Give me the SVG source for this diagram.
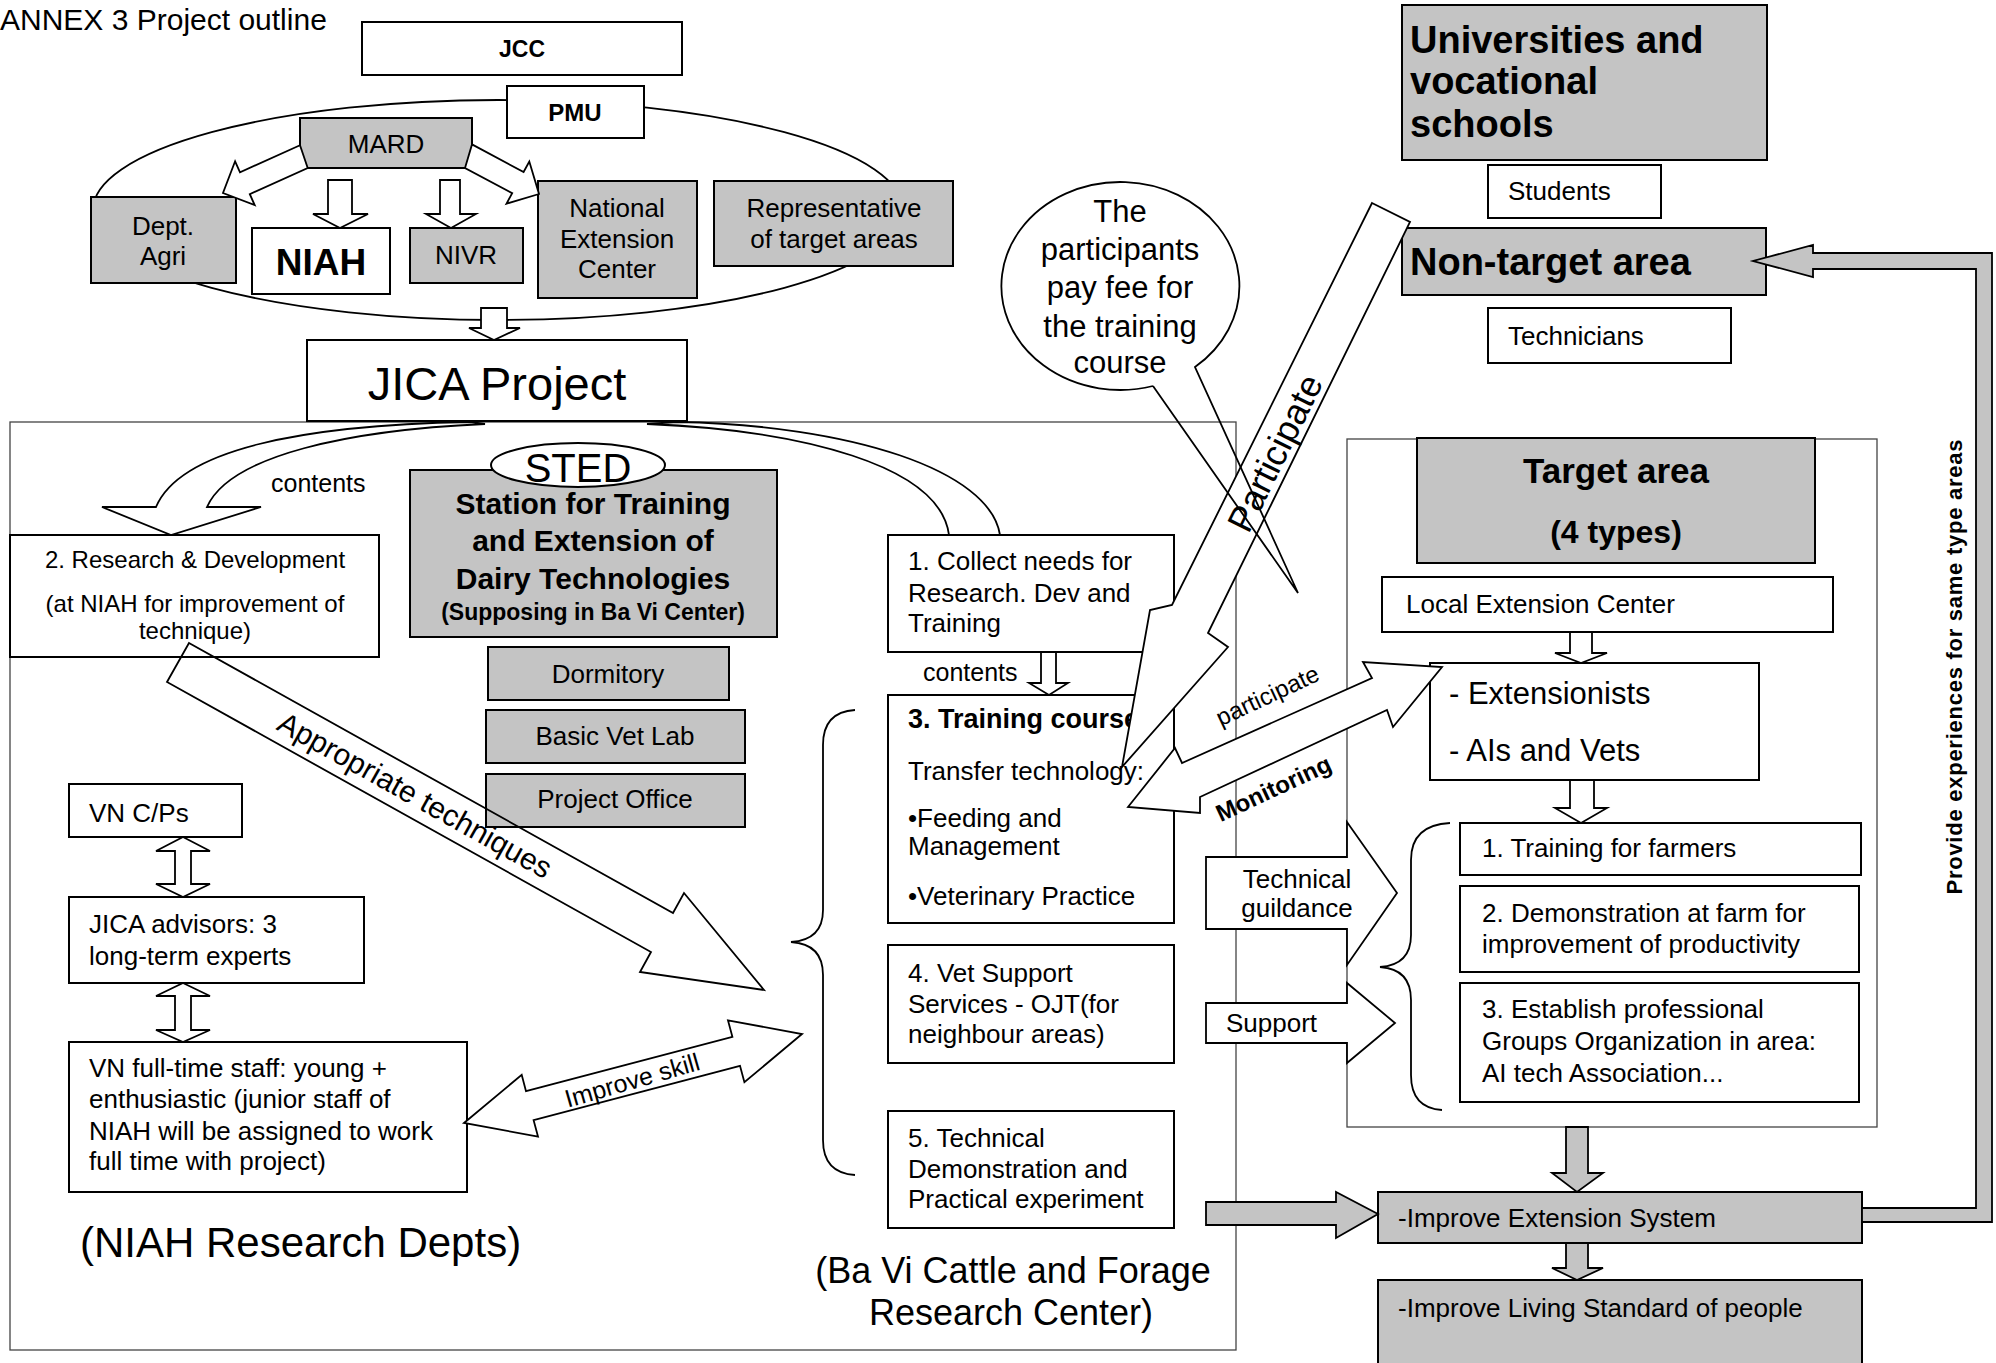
<svg xmlns="http://www.w3.org/2000/svg" width="1996" height="1363" viewBox="0 0 1996 1363">
<style>
text{font-family:"Liberation Sans",Arial,sans-serif;fill:#000}
.b{font-weight:bold}
.box{fill:#fff;stroke:#000;stroke-width:2}
.gbox{fill:#c4c4c4;stroke:#000;stroke-width:2}
.panel{fill:none;stroke:#444;stroke-width:1.3}
.arr{fill:#fff;stroke:#000;stroke-width:1.8;stroke-linejoin:miter}
.arrn{fill:none;stroke:#000;stroke-width:1.8}
.garr{fill:#c4c4c4;stroke:#000;stroke-width:1.8}
.ln{fill:none;stroke:#000;stroke-width:1.8}
.f26{font-size:26px}
.mid{text-anchor:middle}
</style>
<rect width="1996" height="1363" fill="#fff"/>

<g id="title"><text x="0" y="30" font-size="30">ANNEX 3 Project outline</text></g>

<g id="panels">
<rect class="panel" x="10" y="422" width="1226" height="928"/>
<rect class="panel" x="1347" y="439" width="530" height="688"/>
</g>

<g id="org-ellipse"><ellipse class="ln" cx="498" cy="210" rx="405" ry="110"/></g>

<g id="jcc"><rect class="box" x="362" y="22" width="320" height="53"/><text class="b mid" x="522" y="57" font-size="23">JCC</text></g>
<g id="pmu"><rect class="box" x="507" y="86" width="137" height="52"/><text class="b mid" x="575" y="121" font-size="24">PMU</text></g>
<g id="mard"><rect class="gbox" x="300" y="118" width="172" height="50"/><text class="mid f26" x="386" y="153">MARD</text></g>
<g id="dept-agri"><rect class="gbox" x="91" y="197" width="145" height="86"/><text class="mid f26" x="163" y="235">Dept.</text><text class="mid f26" x="163" y="265">Agri</text></g>
<g id="niah"><rect class="box" x="252" y="228" width="138" height="66"/><text class="b mid" x="321" y="275" font-size="37">NIAH</text></g>
<g id="nivr"><rect class="gbox" x="410" y="228" width="113" height="55"/><text class="mid f26" x="466" y="264">NIVR</text></g>
<g id="nec"><rect class="gbox" x="538" y="181" width="159" height="117"/><text class="mid f26" x="617" y="217">National</text><text class="mid f26" x="617" y="248">Extension</text><text class="mid f26" x="617" y="278">Center</text></g>
<g id="rep"><rect class="gbox" x="714" y="181" width="239" height="85"/><text class="mid f26" x="834" y="217">Representative</text><text class="mid f26" x="834" y="248">of target areas</text></g>
<g id="jica"><rect class="box" x="307" y="340" width="380" height="81"/><text class="mid" x="497" y="400" font-size="47">JICA Project</text></g>

<g id="research"><rect class="box" x="10" y="535" width="369" height="122"/><text class="mid" x="195" y="568" font-size="24">2. Research &amp; Development</text><text class="mid" x="195" y="612" font-size="24">(at NIAH for improvement of</text><text class="mid" x="195" y="639" font-size="24">technique)</text></g>
<g id="station"><rect class="gbox" x="410" y="470" width="367" height="167"/><text class="b mid" x="593" y="514" font-size="30">Station for Training</text><text class="b mid" x="593" y="551" font-size="30">and Extension of</text><text class="b mid" x="593" y="589" font-size="30">Dairy Technologies</text><text class="b mid" x="593" y="620" font-size="23">(Supposing in Ba Vi Center)</text></g>
<g id="sted"><ellipse cx="578" cy="465" rx="87" ry="22" fill="#fff" stroke="#000" stroke-width="2"/><text class="mid" x="578" y="482" font-size="40">STED</text></g>
<g id="dormitory"><rect class="gbox" x="488" y="647" width="241" height="53"/><text class="mid f26" x="608" y="683">Dormitory</text></g>
<g id="vetlab"><rect class="gbox" x="486" y="710" width="259" height="53"/><text class="mid f26" x="615" y="745">Basic Vet Lab</text></g>
<g id="office"><rect class="gbox" x="486" y="774" width="259" height="53"/><text class="mid f26" x="615" y="808">Project Office</text></g>
<g id="vncp"><rect class="box" x="69" y="784" width="173" height="53"/><text class="f26" x="89" y="822">VN C/Ps</text></g>
<g id="advisors"><rect class="box" x="69" y="897" width="295" height="86"/><text class="f26" x="89" y="933">JICA advisors: 3</text><text class="f26" x="89" y="965">long-term experts</text></g>
<g id="vnstaff"><rect class="box" x="69" y="1042" width="398" height="150"/><text class="f26" x="89" y="1077">VN full-time staff: young +</text><text class="f26" x="89" y="1108">enthusiastic (junior staff of</text><text class="f26" x="89" y="1140">NIAH will be assigned to work</text><text class="f26" x="89" y="1170">full time with project)</text></g>
<g id="niah-label"><text x="80" y="1257" font-size="42">(NIAH Research Depts)</text></g>

<g id="box1"><rect class="box" x="888" y="535" width="286" height="117"/><text class="f26" x="908" y="570">1. Collect needs for</text><text class="f26" x="908" y="602">Research. Dev and</text><text class="f26" x="908" y="632">Training</text></g>
<g id="box3"><rect class="box" x="888" y="695" width="286" height="228"/><text class="b" x="908" y="728" font-size="27">3. Training course</text><text class="f26" x="908" y="780">Transfer technology:</text><text class="f26" x="908" y="827">•Feeding and</text><text class="f26" x="908" y="855">Management</text><text class="f26" x="908" y="905">•Veterinary Practice</text></g>
<g id="box4"><rect class="box" x="888" y="945" width="286" height="118"/><text class="f26" x="908" y="982">4. Vet Support</text><text class="f26" x="908" y="1013">Services - OJT(for</text><text class="f26" x="908" y="1043">neighbour areas)</text></g>
<g id="box5"><rect class="box" x="888" y="1111" width="286" height="117"/><text class="f26" x="908" y="1147">5. Technical</text><text class="f26" x="908" y="1178">Demonstration and</text><text class="f26" x="908" y="1208">Practical experiment</text></g>
<g id="bavi-label"><text class="mid" x="1013" y="1283" font-size="36">(Ba Vi Cattle and Forage</text><text class="mid" x="1011" y="1325" font-size="36">Research Center)</text></g>

<g id="universities"><rect class="gbox" x="1402" y="5" width="365" height="155"/><text class="b" x="1410" y="53" font-size="38">Universities and</text><text class="b" x="1410" y="94" font-size="38">vocational</text><text class="b" x="1410" y="137" font-size="38">schools</text></g>
<g id="students"><rect class="box" x="1488" y="165" width="173" height="53"/><text class="f26" x="1508" y="200">Students</text></g>
<g id="nontarget"><rect class="gbox" x="1402" y="228" width="364" height="67"/><text class="b" x="1410" y="275" font-size="38">Non-target area</text></g>
<g id="technicians"><rect class="box" x="1488" y="308" width="243" height="55"/><text class="f26" x="1508" y="345">Technicians</text></g>

<g id="target-title"><rect class="gbox" x="1417" y="438" width="398" height="125"/><text class="b mid" x="1616" y="483" font-size="35">Target area</text><text class="b mid" x="1616" y="543" font-size="32">(4 types)</text></g>
<g id="local-ext"><rect class="box" x="1382" y="577" width="451" height="55"/><text class="f26" x="1406" y="613">Local Extension Center</text></g>
<g id="extensionists"><rect class="box" x="1430" y="663" width="329" height="117"/><text x="1449" y="704" font-size="31">- Extensionists</text><text x="1449" y="761" font-size="31">- AIs and Vets</text></g>
<g id="t1"><rect class="box" x="1460" y="823" width="401" height="52"/><text class="f26" x="1482" y="857">1. Training for farmers</text></g>
<g id="t2"><rect class="box" x="1460" y="886" width="399" height="86"/><text class="f26" x="1482" y="922">2. Demonstration at farm for</text><text class="f26" x="1482" y="953">improvement of productivity</text></g>
<g id="t3"><rect class="box" x="1460" y="983" width="399" height="119"/><text class="f26" x="1482" y="1018">3. Establish professional</text><text class="f26" x="1482" y="1050">Groups Organization in area:</text><text class="f26" x="1482" y="1082">AI tech Association...</text></g>
<g id="improve-ext"><rect class="gbox" x="1378" y="1192" width="484" height="51"/><text class="f26" x="1398" y="1227">-Improve Extension System</text></g>
<g id="living"><rect class="gbox" x="1378" y="1280" width="484" height="90"/><text class="f26" x="1398" y="1317">-Improve Living Standard of people</text></g>

<g id="connectors">
<polygon class="arr" points="300,145.2 240,172.3 235.1,161.3 223,193 254.7,205.1 249.8,194.1 307.7,168"/>
<polygon class="arr" points="472,144.4 523.6,172 529.3,161.5 539,194 506.5,203.7 512.2,193.2 465,168"/>
<polygon class="arr" points="328,180 352,180 352,214 368,214 340,228 313,214 328,214"/>
<polygon class="arr" points="440,180 460,180 460,214 476,214 451,228 426,214 440,214"/>
<polygon class="arr" points="481,308 507,308 507,328 520,328 494,340 469,328 481,328"/>
<path class="arr" d="M470 422 C300 425 180 450 156 507 L102 507 L171 535 L261 507 L207 507 C230 455 350 430 485 424 Z"/>
<path class="arr" d="M677 422 C850 425 990 470 1000 535 L949 535 C940 465 800 430 647 424 Z"/>
<polygon class="arr" points="1041,652 1056,652 1056,683 1068,683 1049,695 1029,683 1041,683"/>
<polygon class="arr" points="183,837 210,851 191,851 191,884 210,884 183,897 156,884 175,884 175,851 156,851"/>
<polygon class="arr" points="183,983 210,996 191,996 191,1030 210,1030 183,1042 156,1030 175,1030 175,996 156,996"/>
<polygon class="arrn" points="189,643 673,913 684,893 764,990 640,972 651,952 167,682"/>
<text class="mid" font-size="30" dominant-baseline="central" transform="translate(415,795) rotate(29.2)">Appropriate techniques</text>
<polygon class="arr" points="464,1123 521.7,1074.8 526,1091.2 732.4,1036.8 728,1020.4 802,1034 744.4,1082.2 740,1065.8 533.6,1120.2 538,1136.6"/>
<text class="mid" font-size="25" dominant-baseline="central" transform="translate(632,1080) rotate(-16)">Improve skill</text>
<path class="ln" stroke-width="1.5" d="M855 710 Q823 712 823 745 L823 910 Q823 940 791 942 Q823 944 823 975 L823 1140 Q823 1173 855 1175"/>
<path class="ln" stroke-width="1.5" d="M1450 823 Q1411 825 1411 860 L1411 935 Q1411 965 1380 967 Q1411 969 1411 1000 L1411 1075 Q1411 1108 1442 1110"/>
<polygon class="arr" points="1372,203 1410,222 1208,633 1228,647 1122,767 1150,610 1172,605"/>
<text class="mid" font-size="36" dominant-baseline="central" transform="translate(1275,453) rotate(-63.7)">Participate</text>
<polygon class="arr" points="1128,807 1175,748 1182,763 1372,678 1363,662 1442,667 1393,727 1387,710 1200,797 1200,813"/>
<text class="mid" font-size="24" transform="translate(1271,703) rotate(-25)">participate</text>
<text class="b mid" font-size="24" transform="translate(1277,796) rotate(-25)">Monitoring</text>
<polygon class="arr" points="1206,857 1347,857 1347,822 1397,893 1347,965 1347,929 1206,929"/>
<text class="mid f26" x="1297" y="888">Technical</text>
<text class="mid f26" x="1297" y="917">guildance</text>
<polygon class="arr" points="1206,1003 1347,1003 1347,983 1395,1023 1347,1063 1347,1043 1206,1043"/>
<text class="f26" x="1226" y="1032">Support</text>
<polygon class="arr" points="1570,632 1592,632 1592,653 1607,653 1581,663 1555,653 1570,653"/>
<polygon class="arr" points="1570,780 1594,780 1594,808 1607,808 1581,823 1555,808 1570,808"/>
<polygon class="garr" points="1566,1127 1588,1127 1588,1173 1603,1173 1577,1192 1552,1173 1566,1173"/>
<polygon class="garr" points="1566,1243 1588,1243 1588,1268 1603,1268 1577,1280 1552,1268 1566,1268"/>
<polygon class="garr" points="1206,1202 1336,1202 1336,1192 1378,1214 1336,1238 1336,1225 1206,1225"/>
<polygon class="garr" points="1862,1208 1976,1208 1976,269 1813,269 1813,277 1753,261 1813,245 1813,253 1992,253 1992,1222 1862,1222"/>
<text class="b mid" font-size="22" textLength="455" lengthAdjust="spacing" transform="translate(1962,667) rotate(-90)">Provide experiences for same type areas</text>
<text x="271" y="492" font-size="25">contents</text>
<text x="923" y="681" font-size="25">contents</text>
</g>

<g id="callout">
<ellipse cx="1121" cy="286" rx="119" ry="104" fill="#fff"/>
<path class="ln" d="M1153 386 L1298 593 L1195 367 A119 104 0 1 0 1153 386"/>
<text class="mid" x="1120" y="222" font-size="31">The</text>
<text class="mid" x="1120" y="260" font-size="31">participants</text>
<text class="mid" x="1120" y="298" font-size="31">pay fee for</text>
<text class="mid" x="1120" y="337" font-size="31">the training</text>
<text class="mid" x="1120" y="373" font-size="31">course</text>
</g>
</svg>
